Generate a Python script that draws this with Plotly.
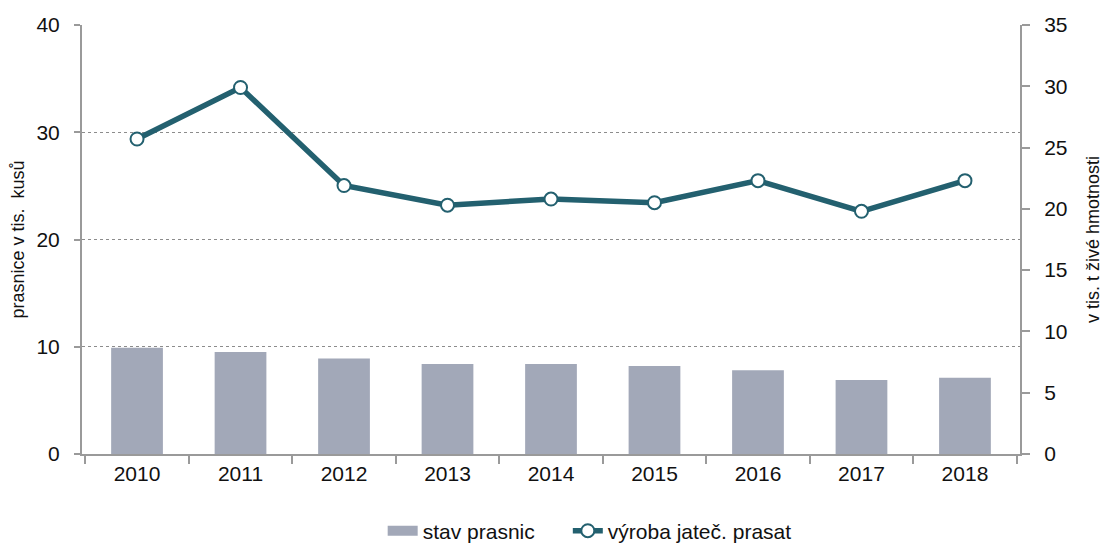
import plotly.graph_objects as go

years = ["2010", "2011", "2012", "2013", "2014", "2015", "2016", "2017", "2018"]
sows = [9.9, 9.5, 8.9, 8.4, 8.4, 8.2, 7.8, 6.9, 7.1]
production = [25.7, 29.9, 21.9, 20.3, 20.8, 20.5, 22.3, 19.8, 22.3]

bar_color = "#A2A8B8"
line_color = "#23606F"
axis_color = "#9A9A9A"
font_family = "Liberation Sans, Arial, sans-serif"

fig = go.Figure()
fig.add_trace(go.Bar(
    x=years, y=sows, name="stav prasnic",
    marker=dict(color=bar_color, line=dict(width=0)),
    yaxis="y", showlegend=False,
))
# legend-only entry drawn as a wide swatch, like the reference legend
fig.add_trace(go.Scatter(
    x=[None], y=[None], name="stav prasnic", mode="lines",
    line=dict(color=bar_color, width=14), yaxis="y", legend="legend",
))
fig.add_trace(go.Scatter(
    x=years, y=production, name="výroba jateč. prasat",
    mode="lines+markers",
    line=dict(color=line_color, width=5.5),
    marker=dict(symbol="circle", size=13, color="white",
                line=dict(color=line_color, width=2)),
    yaxis="y2", legend="legend2",
))

leg_common = dict(orientation="h", xref="container", yref="container",
                  xanchor="left", yanchor="middle", y=0.026,
                  font=dict(size=21), bgcolor="rgba(0,0,0,0)")

# page body has an 8px default margin, so the figure is offset by 8px
fig.update_layout(
    width=1102, height=537,
    margin=dict(l=74, r=90, t=17, b=91),
    paper_bgcolor="white", plot_bgcolor="white",
    font=dict(family=font_family, size=21, color="#111111"),
    bargap=0.5,
    showlegend=True,
    legend=dict(x=0.340, **leg_common),
    legend2=dict(x=0.508, **leg_common),
    xaxis=dict(
        type="category", automargin=False,
        showline=True, linecolor=axis_color, linewidth=2,
        ticks="outside", ticklen=8, tickcolor=axis_color, tickwidth=2,
        tickson="boundaries",
        showgrid=False,
        tickfont=dict(size=21),
    ),
    yaxis=dict(
        range=[0, 40], dtick=10, automargin=False,
        showline=True, linecolor=axis_color, linewidth=2,
        ticks="outside", ticklen=6, tickcolor=axis_color, tickwidth=2,
        ticklabelstandoff=10,
        showgrid=True, gridcolor="#8C8C8C", griddash="dot", gridwidth=1,
        zeroline=False,
        tickfont=dict(size=21),
        title=dict(text="prasnice v tis.  kusů", font=dict(size=18), standoff=8),
    ),
    yaxis2=dict(
        range=[0, 35], dtick=5, automargin=False,
        overlaying="y", side="right",
        showline=True, linecolor=axis_color, linewidth=2,
        ticks="outside", ticklen=8, tickcolor=axis_color, tickwidth=2,
        ticklabelstandoff=10,
        showgrid=False, zeroline=False,
        tickfont=dict(size=21),
        title=dict(text="v tis. t živé hmotnosti", font=dict(size=18), standoff=20),
    ),
)

fig.write_html("out.html")
